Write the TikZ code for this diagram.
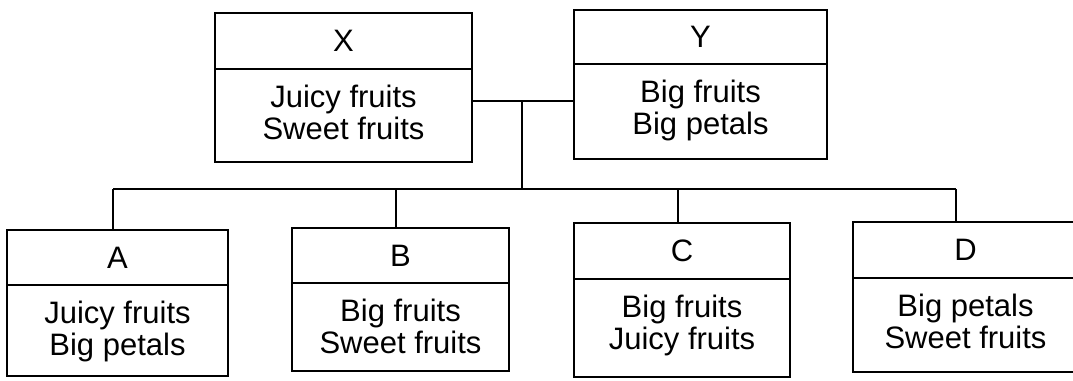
\documentclass[tikz,border=0pt]{standalone}
\usepackage{fontspec}
\setmainfont{Liberation Sans}
\begin{document}
\begin{tikzpicture}[x=1pt,y=-1pt,
  frame/.style={draw=black, line width=2.4pt, inner sep=0pt, outer sep=0pt},
  head/.style={inner sep=0pt, font=\fontsize{31pt}{32pt}\selectfont},
  body/.style={inner sep=0pt, align=center, font=\fontsize{31pt}{32pt}\selectfont},
  wire/.style={draw=black, line width=2.4pt}]
\useasboundingbox (0,0) rectangle (1073,380);
\clip (0,0) rectangle (1073,380);

% two-part box: name, left, top, right, bottom, divider, title, contents
\newcommand\twopart[8]{%
  \node[frame, anchor=north west, minimum width={#4-#2}, minimum height={#5-#3}] (#1) at (#2,#3) {};
  \draw[frame] (#1.west |- 0,#6) -- (#1.east |- 0,#6);
  \node[head] (#1-h) at ({(#2+#4)/2},{(#3+#6)/2}) {#7};
  \node[body, anchor=north] (#1-b) at ({(#2+#4)/2},#6) {\rule{0pt}{38pt}#8};
}

% parents
\twopart{X}{215}{13}{472}{162}{69}{X}{Juicy fruits\\Sweet fruits}
\twopart{Y}{574}{10}{827}{159}{64}{Y}{Big fruits\\Big petals}

% offspring
\twopart{A}{7}{230}{228}{376}{285}{A}{Juicy fruits\\Big petals}
\twopart{B}{292}{228}{509}{371}{283}{B}{Big fruits\\Sweet fruits}
\twopart{C}{574}{223}{790}{377}{279}{C}{Big fruits\\Juicy fruits}
\twopart{D}{853}{222}{1078}{372}{278}{D}{Big petals\\Sweet fruits}

% cross and descent lines
\coordinate (j) at (522,101);
\coordinate (t) at (522,189);
\coordinate (ba) at (113,189);
\coordinate (bb) at (396,189);
\coordinate (bc) at (678,189);
\coordinate (bd) at (956,189);

\draw[wire] (X.east |- j) -- (Y.west |- j);
\draw[wire] (j) -- (t);
\draw[wire] (ba) -- (bd);
\draw[wire] (ba) -- (ba |- A.north);
\draw[wire] (bb) -- (bb |- B.north);
\draw[wire] (bc) -- (bc |- C.north);
\draw[wire] (bd) -- (bd |- D.north);
\end{tikzpicture}
\end{document}
